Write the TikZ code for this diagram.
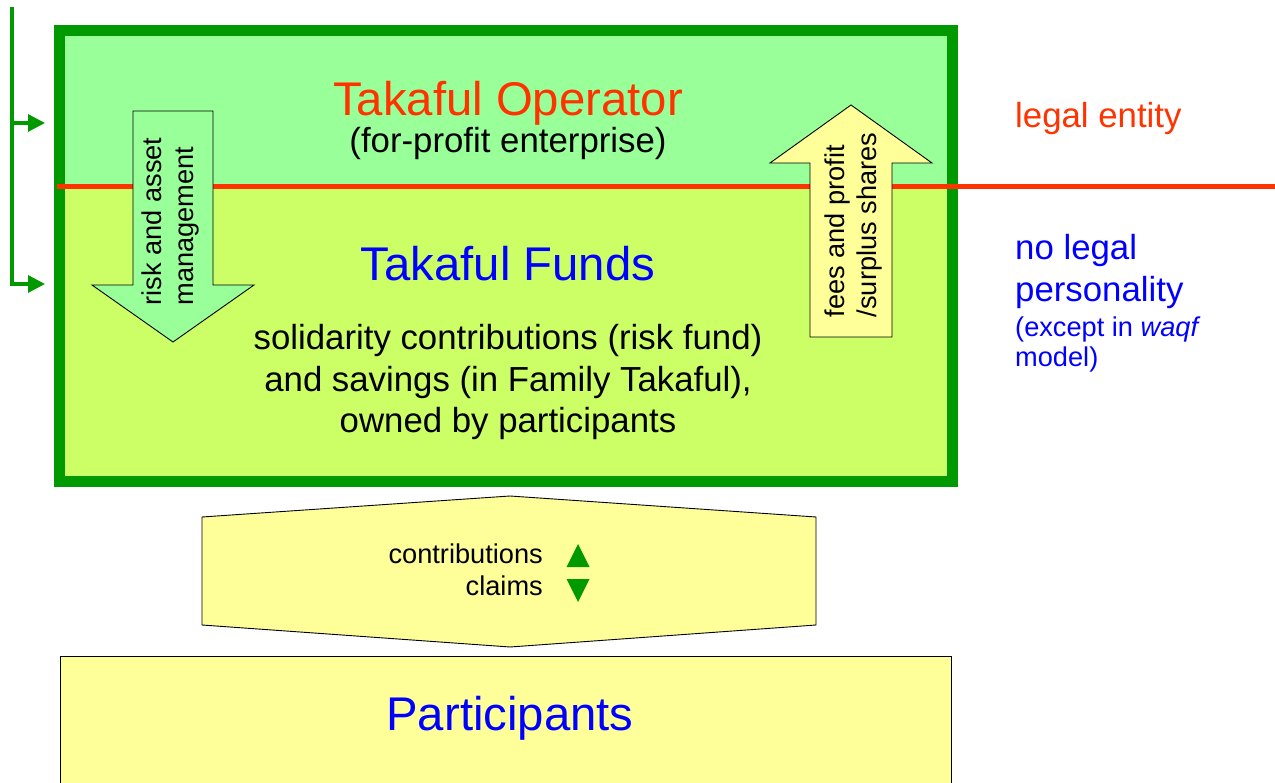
\documentclass[tikz,border=0pt]{standalone}
\usepackage{fontspec}
\setmainfont{Liberation Sans}
\usetikzlibrary{arrows.meta}
\definecolor{frameg}{HTML}{009900}
\definecolor{topg}{HTML}{99FF99}
\definecolor{lowg}{HTML}{CCFF66}
\definecolor{redc}{HTML}{FF3300}
\definecolor{bluec}{HTML}{0000FF}
\definecolor{yel}{HTML}{FFFF99}
\begin{document}
\begin{tikzpicture}[x=1pt,y=-1pt,
  big/.style={font=\fontsize{47.3}{50}\selectfont, inner sep=0pt},
  mid/.style={font=\fontsize{34.8}{41.5}\selectfont, inner sep=0pt},
  sml/.style={font=\fontsize{27.2}{32}\selectfont, inner sep=0pt},
  blockarrow/.style={draw=black, line width=0.9pt, line join=miter},
  bracket/.style={draw=frameg, line width=3.2pt},
  tip/.style={-{Triangle[length=17pt,width=17pt]}}]
\path[use as bounding box, clip] (0,0) rectangle (1275,783);

% main frame
\fill[topg] (59.5,30.5) rectangle (952,187);
\fill[lowg] (59.5,187) rectangle (952,482);
\node[draw=frameg, line width=11pt, minimum width=892.5pt, minimum height=451.5pt, inner sep=0pt] (frame) at (505.75,256.25) {};
\draw[redc, line width=5pt] (57,187) -- (1275,187);

% block arrows
\draw[blockarrow, fill=topg] (133,111) -- (213,111) -- (213,285) -- (254,285) -- (173,342) -- (92,285) -- (133,285) -- cycle;
\draw[blockarrow, fill=yel] (810,337) -- (892,337) -- (892,163) -- (932,163) -- (851,105) -- (770,163) -- (810,163) -- cycle;
\node[sml, rotate=90, align=left] (risk) at (170.5,221.5) {risk and asset\\management};
\node[sml, rotate=90, align=left] (fees) at (853.5,225) {fees and profit\\/surplus shares};

% texts in frame
\node[big, text=redc, anchor=base] (op) at (508,116) {Takaful Operator};
\node[mid, anchor=base] (opsub) at (508,153) {(for-profit enterprise)};
\node[big, text=bluec, anchor=base] (funds) at (508,281) {Takaful Funds};
\node[mid, anchor=base] (f1) at (508,350) {solidarity contributions (risk fund)};
\node[mid, anchor=base] (f2) at (508,392) {and savings (in Family Takaful),};
\node[mid, anchor=base] (f3) at (508,433) {owned by participants};

% right side
\node[mid, text=redc, anchor=base west] (legal) at (1015,128) {legal entity};
\node[mid, text=bluec, anchor=base west] (nl1) at (1015,260) {no legal};
\node[mid, text=bluec, anchor=base west] (nl2) at (1015,302) {personality};
\node[sml, text=bluec, anchor=base west] (ex1) at (1015,337) {(except in \textit{waqf}};
\node[sml, text=bluec, anchor=base west] (ex2) at (1015,367) {model)};

% contributions / claims
\draw[blockarrow, fill=yel] (202,517) -- (510,496) -- (816,517) -- (816,625) -- (510,647) -- (202,625) -- cycle;
\node[sml, anchor=base east] (contr) at (543,563) {contributions};
\node[sml, anchor=base east] (claims) at (543,595) {claims};
\fill[frameg] (566.5,567) -- (589.5,567) -- (578,544) -- cycle;
\fill[frameg] (566.5,579) -- (589.5,579) -- (578,602) -- cycle;

% participants
\node[draw=black, line width=1.2pt, fill=yel, minimum width=891pt, minimum height=140pt, inner sep=0pt, anchor=north west] (part) at (60,656) {};
\node[big, text=bluec, anchor=base] (partt) at (510,730) {Participants};

% bracket
\coordinate (bt) at (12,7);
\coordinate (opin) at (45,123);
\coordinate (fdin) at (45,284);
\draw[bracket, tip] (bt) -- (bt |- fdin) -- (fdin);
\draw[bracket, tip] (bt |- opin) -- (opin);
\end{tikzpicture}
\end{document}
